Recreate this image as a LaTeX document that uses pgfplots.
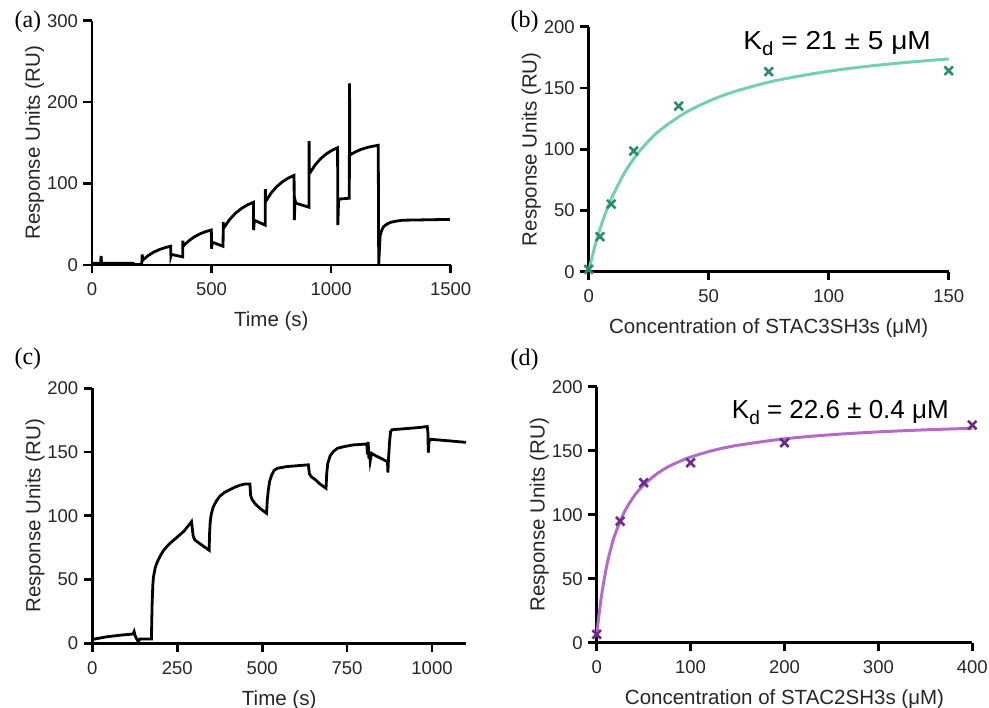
\documentclass[border=0pt]{standalone}
\usepackage{fontspec}
\setmainfont{Liberation Sans}
\newfontfamily\seriffont{Liberation Serif}
\usepackage{graphicx}
\usepackage{pgfplots}
\pgfplotsset{compat=1.18}

\definecolor{tealline}{HTML}{72D1B0}
\definecolor{tealmark}{HTML}{2A8C66}
\definecolor{purpline}{HTML}{B46CC8}
\definecolor{purpmark}{HTML}{6A2A8A}

\pgfplotsset{
  panel/.style={
    scale only axis, anchor=south west,
    axis lines=left, axis line style={-, line width=2.7pt, black},
    tick align=outside, major tick length=8.5pt,
    every tick/.style={black, line width=2.7pt},
    enlargelimits=false, clip=false,
    tick label style={font=\fontsize{18.5}{18.5}\selectfont, color=black!85},
    xticklabel style={yshift=-6pt},
    yticklabel style={xshift=-2pt},
    label style={font=\fontsize{20.5}{20.5}\selectfont, color=black!85},
    xlabel shift=9pt,
    ylabel shift=-4pt,
    /pgf/number format/assume math mode=true,
    /pgf/number format/1000 sep={},
  },
  fitline/.style={line width=3pt, smooth},
  datamarks/.style={only marks, mark=x, mark size=6pt, line width=2.6pt},
}
\tikzset{
  panellabel/.style={anchor=base west, font=\seriffont\fontsize{24}{24}\selectfont},
  kdlabel/.style={anchor=base west, inner sep=0pt, font=\fontsize{26}{26}\selectfont},
}

\begin{document}
\begin{tikzpicture}
\path[use as bounding box] (0,0) rectangle (989pt,-708pt);

% (a) sensorgram, STAC3
\begin{axis}[panel, at={(92pt,-265pt)}, width=358.7pt, height=244.3pt,
  xmin=0, xmax=1500, ymin=0, ymax=300,
  xtick={0,500,1000,1500}, ytick={0,100,200,300},
  xlabel={Time (s)}, ylabel={Response Units (RU)}]
\addplot[black, line width=2.8pt] coordinates {
(0,2) (20,2) (36,2) (38,11) (40,2) (100,2) (172,2) (180,0.5) (208,0.5) (210,13) (212,6)
(235.4,11.7) (258.8,15.9) (282.2,19.0) (305.6,21.3) (329,23)
(330,11) (332,13) (379,10) (380,30) (381,23)
(404.6,29.7) (428.2,34.6) (451.8,38.3) (475.4,41) (499,43)
(500,20) (503,28) (548,23) (549,53) (550,45)
(575,55.7) (600,63.6) (625,69.4) (650,73.8) (675,77)
(676,43) (679,55) (724,49) (725,93) (726,78)
(749.8,88.7) (773.6,96.6) (797.4,102.4) (821.2,106.8) (845,110)
(846,55) (849,80) (852,76) (907,71) (908,152) (909,112)
(932.6,122.7) (956.2,130.6) (979.8,136.4) (1003.4,140.8) (1027,144)
(1028,49) (1031,78) (1035,81) (1076,82) (1077,223) (1078,135)
(1101.8,139) (1125.6,142) (1149.4,144.2) (1173.2,145.8) (1197,147)
(1199,0) (1202,20) (1205,36) (1212,43) (1219,47) (1235,50.5) (1250,52.5)
(1275,54) (1300,55) (1400,55.5) (1497,56)
};
\end{axis}
\node[panellabel] at (11pt,-28pt) {(a)};

% (b) binding isotherm, STAC3SH3s
\begin{axis}[panel, at={(588.7pt,-271.7pt)}, width=360pt, height=245pt,
  xmin=0, xmax=150, ymin=0, ymax=200,
  xtick={0,50,100,150}, ytick={0,50,100,150,200},
  xlabel={Concentration of STAC3SH3s (μM)}, ylabel={Response Units (RU)}]
\addplot[tealline, fitline] coordinates {
(0,0) (1,8.5) (2,16.5) (3,23.8) (5,36.5) (7.5,50.5) (10,62) (15,81) (20,95.5)
(25,106.8) (30,116) (40,129.5) (50,139.2) (60,146.6) (75,154.7) (90,160.5)
(105,165) (120,168.5) (135,171.3) (150,173.7)
};
\addplot[tealmark, datamarks] coordinates {
(0,1.9) (4.69,28.6) (9.375,55.2) (18.75,98.5) (37.5,135.2) (75,163.3) (150,164.1)
};
\node[kdlabel] at (axis cs:64.4,181)
  {\scalebox{1.08}[1]{K\raisebox{-0.22em}{\fontsize{19}{19}\selectfont d} = 21 ± 5 μM}};
\end{axis}
\node[panellabel] at (507pt,-28pt) {(b)};

% (c) sensorgram, STAC2
\begin{axis}[panel, at={(92.3pt,-643.3pt)}, width=373.7pt, height=255pt,
  xmin=0, xmax=1100, ymin=0, ymax=200,
  xtick={0,250,500,750,1000}, ytick={0,50,100,150,200},
  xlabel={Time (s)}, ylabel={Response Units (RU)}]
\addplot[black, line width=2.8pt] coordinates {
(0,3) (40,5) (80,6.3) (120,7.3) (123,9.2) (126,6) (130,3.9) (135,1.3) (140,3.4) (174,3.4)
(176,30) (178,45) (180,52) (185,59) (190,63) (200,68.5) (210,73) (225,77.5) (240,81)
(255,84.5) (270,88) (285,93) (292,95.4) (294,91) (297,84) (302,81) (320,77.5) (344,73)
(345,85) (347,95) (350,101) (356,107) (366,112) (376,115.5) (390,118.5) (405,120.5)
(420,122.5) (435,124) (450,125) (464,125) (466,116) (470,113) (479,109.5) (495,105.5) (513,102)
(515,112) (518,120) (522,127) (528,132) (535,135.5) (545,137.3) (572,138.6) (600,139.2)
(636,140) (639,133) (645,130.5) (656,128.5) (670,125) (688,121.6)
(690,133) (693,141) (700,147) (710,150.5) (722,153) (740,154.2) (768,155.6) (808,156.3)
(810,148) (812,158) (814,145) (816,150) (818,143) (822,149) (835,147) (850,145) (869,142.5)
(870,134) (872,145) (875,158) (878,166) (882,167.5) (920,168.3) (960,169.2) (986,170)
(988,165) (989,149.5) (991,158) (995,160) (1050,158.8) (1100,157.6)
};
\end{axis}
\node[panellabel] at (11pt,-365pt) {(c)};

% (d) binding isotherm, STAC2SH3s
\begin{axis}[panel, at={(596.7pt,-642.7pt)}, width=375.6pt, height=256pt,
  xmin=0, xmax=400, ymin=0, ymax=200,
  xtick={0,100,200,300,400}, ytick={0,50,100,150,200},
  xlabel={Concentration of STAC2SH3s (μM)}, ylabel={Response Units (RU)}]
\addplot[purpline, fitline] coordinates {
(0,5) (2,19) (5,36.1) (10,57.7) (15,73.5) (20,85.6) (30,102.9) (40,114.7) (50,123.2)
(65,132.4) (80,138.9) (100,145) (125,150.4) (150,154.2) (200,159.3) (250,162.5)
(300,164.7) (350,166.3) (400,167.5)
};
\addplot[purpmark, datamarks] coordinates {
(0,6.5) (25,95) (50,125) (100,140.6) (200,156.25) (400,170)
};
\node[kdlabel] at (axis cs:143.8,175.3)
  {K\raisebox{-0.22em}{\fontsize{19}{19}\selectfont d} = 22.6 ± 0.4 μM};
\end{axis}
\node[panellabel] at (507pt,-366pt) {(d)};
\end{tikzpicture}
\end{document}
